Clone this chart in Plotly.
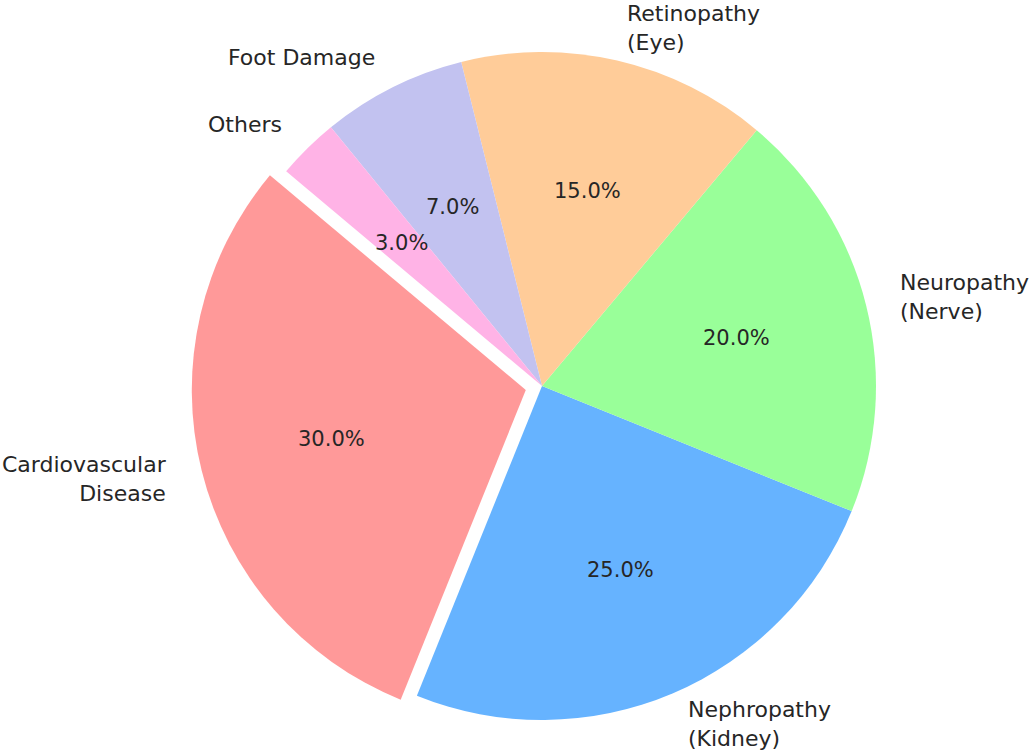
import numpy as np
import plotly.graph_objects as go

labels = ["Cardiovascular<br>Disease", "Nephropathy<br>(Kidney)", "Neuropathy<br>(Nerve)",
          "Retinopathy<br>(Eye)", "Foot Damage", "Others"]
values = [30, 25, 20, 15, 7, 3]
colors = ["#ff9999", "#66b3ff", "#99ff99", "#ffcc99", "#c2c2f0", "#ffb3e6"]
explode = [0.05, 0, 0, 0, 0, 0]
start_angle = 140

W, H = 1033, 752
cx, cy, r = 542, 386, 334
maxpull = max(explode)
half = r * (1 + maxpull)

vals = np.array(values, dtype=float)
frac = vals / vals.sum()
cum = np.concatenate([[0], np.cumsum(frac)[:-1]])
mid = np.deg2rad(start_angle + 360 * (cum + frac / 2))

# plotly (counterclockwise) anchors the rotation at the far edge of the first slice
rotation = 90 - (start_angle + 360 * frac[0])

fig = go.Figure()
fig.add_trace(go.Pie(
    labels=labels, values=values, sort=False, direction="counterclockwise",
    rotation=rotation,
    pull=explode, marker=dict(colors=colors, line=dict(width=0)),
    textinfo="none", hoverinfo="label+percent", showlegend=False,
    domain=dict(x=[(cx - half) / W, (cx + half) / W],
                y=[1 - (cy + half) / H, 1 - (cy - half) / H]),
))

font_family = "DejaVu Sans, sans-serif"
annotations = []
for i, lab in enumerate(labels):
    ox = explode[i] * r * np.cos(mid[i])
    oy = explode[i] * r * np.sin(mid[i])
    lx = cx + ox + 1.1 * r * np.cos(mid[i])
    ly = cy - oy - 1.1 * r * np.sin(mid[i])
    right = np.cos(mid[i]) > 0
    annotations.append(dict(
        x=lx / W, y=1 - ly / H, xref="paper", yref="paper", text=lab, showarrow=False,
        xanchor="left" if right else "right", yanchor="middle",
        align="left" if right else "right",
        font=dict(family=font_family, size=22, color="#262626")))
    px = cx + ox + 0.6 * r * np.cos(mid[i])
    py = cy - oy - 0.6 * r * np.sin(mid[i])
    annotations.append(dict(
        x=px / W, y=1 - py / H, xref="paper", yref="paper",
        text=f"{100 * frac[i]:.1f}%", showarrow=False,
        xanchor="center", yanchor="middle",
        font=dict(family=font_family, size=21, color="#262626")))

fig.update_layout(
    width=W, height=H, margin=dict(l=0, r=0, t=0, b=0),
    paper_bgcolor="white", plot_bgcolor="white",
    annotations=annotations,
)
fig.write_html("out.html")
